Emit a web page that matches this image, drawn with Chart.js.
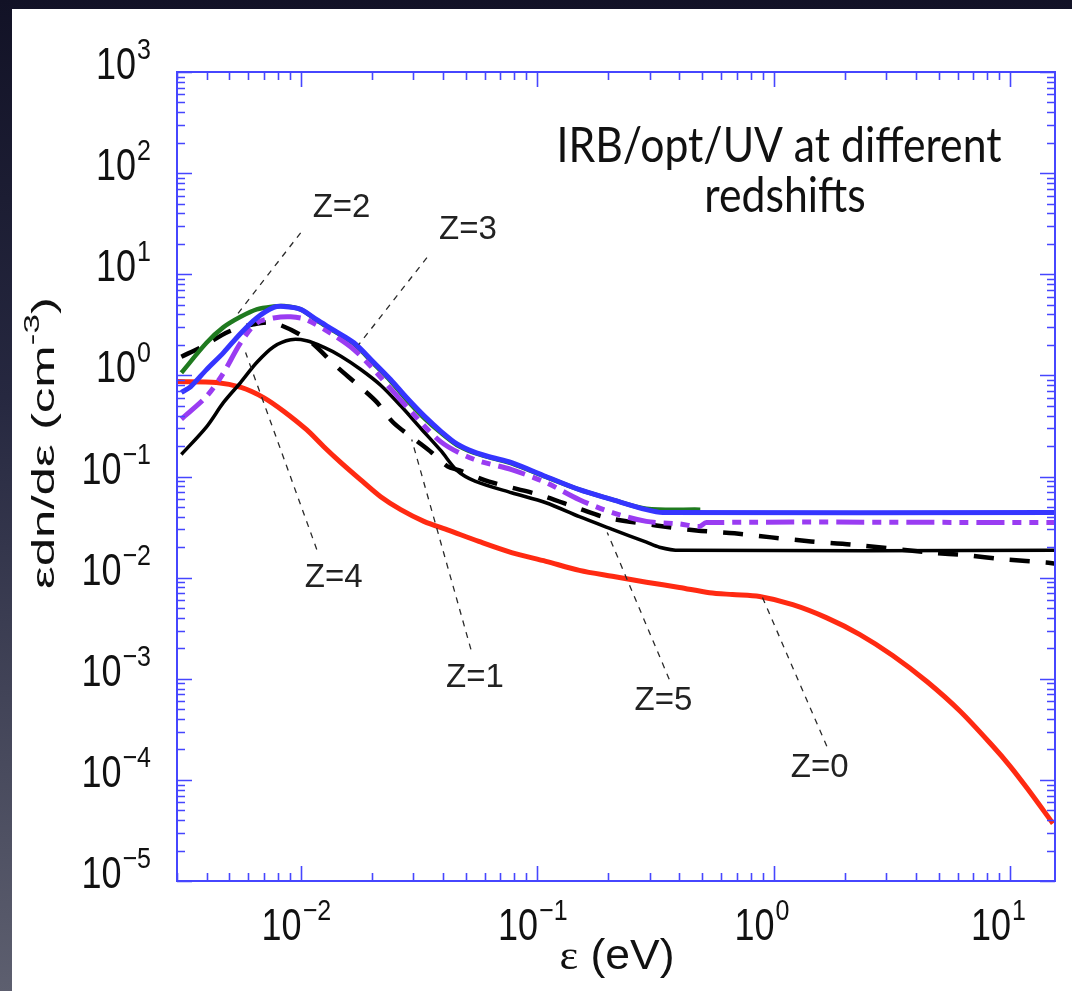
<!DOCTYPE html>
<html>
<head>
<meta charset="utf-8">
<script src="https://cdn.jsdelivr.net/npm/chart.js@4.4.1/dist/chart.umd.min.js"></script>
<style>
  html, body { margin: 0; padding: 0; width: 1072px; height: 991px; overflow: hidden;
    background: linear-gradient(180deg, #121226 0%, #262840 40%, #5d5f6f 100%); }
  #panel { position: absolute; left: 12px; top: 9px; width: 1060px; height: 982px; background: #ffffff; }
  #wrap { position: absolute; left: 0; top: 0; width: 1072px; height: 991px; }
</style>
</head>
<body>
<div id="panel"></div>
<div id="wrap"><canvas id="c" width="1072" height="991"></canvas></div>
<script>
// Photon number density of the infrared / optical / UV background, eps*dn/deps (cm^-3),
// versus photon energy eps (eV), at redshifts Z = 0 ... 5.
const z0Energy  = [0.003, 0.0044, 0.0056, 0.0070, 0.0085, 0.0106, 0.0125, 0.0148, 0.0179, 0.0218, 0.0265, 0.0332, 0.0424, 0.0567, 0.078, 0.109, 0.151, 0.208, 0.290, 0.40, 0.536, 0.67, 0.873, 1.205, 1.68, 2.31, 3.19, 4.45, 6.14, 8.47, 10.0, 11.8, 15.2];
const z0Density = [0.87, 0.85, 0.76, 0.60, 0.44, 0.29, 0.198, 0.137, 0.093, 0.063, 0.047, 0.036, 0.0293, 0.0228, 0.0177, 0.0145, 0.0118, 0.0103, 0.0090, 0.0080, 0.0071, 0.0068, 0.0065, 0.0054, 0.0040, 0.00275, 0.0017, 0.00094, 0.00048, 0.000215, 0.000137, 0.000083, 0.000037];

const z1Energy  = [0.00313, 0.00388, 0.00495, 0.00632, 0.00769, 0.0106, 0.0142, 0.0174, 0.0209, 0.0247, 0.0306, 0.0359, 0.0418, 0.047, 0.0627, 0.102, 0.151, 0.198, 0.319, 0.472, 0.684, 0.98, 1.44, 2.12, 4.58, 6.64, 9.6, 14.2, 15.5];
const z1Density = [1.53, 1.95, 2.7, 3.2, 3.3, 2.3, 1.22, 0.81, 0.55, 0.34, 0.23, 0.172, 0.126, 0.115, 0.089, 0.066, 0.048, 0.039, 0.0328, 0.0293, 0.0274, 0.025, 0.0228, 0.0213, 0.0177, 0.0166, 0.0151, 0.0141, 0.0138];

const z2Energy  = [0.00313, 0.0040, 0.00472, 0.00557, 0.00652, 0.00769, 0.0085, 0.01, 0.0117, 0.0138, 0.0168, 0.0204, 0.024, 0.0281, 0.0332, 0.0392, 0.0458, 0.054, 0.0638, 0.078, 0.109, 0.151, 0.208, 0.29, 0.49];
const z2Density = [1.06, 2.1, 3.0, 3.8, 4.5, 4.8, 4.85, 4.5, 3.5, 2.75, 2.05, 1.3, 0.88, 0.57, 0.38, 0.27, 0.205, 0.172, 0.153, 0.135, 0.099, 0.074, 0.059, 0.048, 0.047];

const z3Energy  = [0.00313, 0.00342, 0.0040, 0.00472, 0.00557, 0.00652, 0.00769, 0.00847, 0.01, 0.0117, 0.0138, 0.0168, 0.0204, 0.024, 0.0281, 0.0332, 0.0392, 0.0458, 0.054, 0.0638, 0.078, 0.109, 0.151, 0.208, 0.29, 0.34, 15.5];
const z3Density = [0.68, 0.77, 1.14, 1.68, 2.6, 3.7, 4.7, 4.8, 4.5, 3.55, 2.8, 2.1, 1.34, 0.91, 0.6, 0.4, 0.28, 0.21, 0.175, 0.155, 0.137, 0.1, 0.074, 0.059, 0.047, 0.044, 0.044];

const z4Energy  = [0.00313, 0.0040, 0.00472, 0.00557, 0.00652, 0.00769, 0.00907, 0.0106, 0.0138, 0.0168, 0.0204, 0.0281, 0.0392, 0.054, 0.078, 0.109, 0.151, 0.208, 0.29, 0.40, 0.485, 0.52, 15.5];
const z4Density = [0.37, 0.62, 1.06, 2.1, 3.3, 3.7, 3.8, 3.55, 2.5, 1.8, 1.14, 0.49, 0.22, 0.148, 0.117, 0.087, 0.059, 0.044, 0.036, 0.034, 0.032, 0.035, 0.035];

const z5Energy  = [0.00313, 0.0040, 0.00472, 0.00557, 0.00652, 0.00769, 0.00907, 0.0106, 0.0125, 0.0148, 0.0179, 0.0218, 0.0265, 0.0322, 0.0392, 0.0458, 0.0546, 0.078, 0.109, 0.151, 0.208, 0.29, 0.329, 0.40, 15.5];
const z5Density = [0.165, 0.31, 0.54, 0.85, 1.34, 1.92, 2.25, 2.2, 1.9, 1.55, 1.15, 0.8, 0.5, 0.3, 0.18, 0.115, 0.09, 0.069, 0.055, 0.040, 0.030, 0.0224, 0.020, 0.0186, 0.0186];

// Axis ranges and decade labels
const energyRange  = [0.003, 15.5];
const densityRange = [1e-5, 1e3];
const energyDecades  = [-2, -1, 0, 1];
const densityDecades = [3, 2, 1, 0, -1, -2, -3, -4, -5];

// Redshift tags: label, label position, and the two ends of its leader (energy, density)
const zTags = [
  { text: 'Z=2', at: [0.0149, 45.0],    from: [0.0100, 25.7],   to: [0.0053, 3.8] },
  { text: 'Z=3', at: [0.051, 27.5],     from: [0.0342, 14.6],   to: [0.0176, 2.01] },
  { text: 'Z=4', at: [0.0138, 0.0100],  from: [0.0117, 0.019],  to: [0.00585, 1.68] },
  { text: 'Z=1', at: [0.0546, 0.00103], from: [0.0525, 0.00195], to: [0.0295, 0.232] },
  { text: 'Z=5', at: [0.342, 0.0006],   from: [0.362, 0.00099], to: [0.198, 0.028] },
  { text: 'Z=0', at: [1.567, 0.00013],  from: [1.68, 0.000215], to: [0.897, 0.00638] }
];
const noteLines = ['IRB/opt/UV at different', 'redshifts'];

const pts = (xs, ys) => xs.map((x, i) => ({ x: x, y: ys[i] }));
const expText = e => String(e).replace('-', '\u2212');

const AXIS_BLUE = '#4646ff';
const SANS = '"Liberation Sans", Arial, sans-serif';

function scaledText(ctx, txt, x, y, font, align, sx, sy) {
  ctx.save();
  ctx.translate(x, y);
  ctx.scale(sx, sy);
  ctx.font = font;
  ctx.textAlign = align;
  ctx.textBaseline = 'alphabetic';
  ctx.fillText(txt, 0, 0);
  ctx.restore();
}

const framePlugin = {
  id: 'frame',
  afterDraw(chart) {
    const ctx = chart.ctx;
    const a = chart.chartArea;
    const xs = chart.scales.x, ys = chart.scales.y;

    // ---- frame with inward ticks on all four sides ----
    ctx.save();
    ctx.strokeStyle = AXIS_BLUE;
    ctx.lineWidth = 2;
    ctx.strokeRect(a.left, a.top, a.right - a.left, a.bottom - a.top);
    ctx.lineWidth = 1.6;
    ctx.beginPath();
    for (let d = -3; d <= 1; d++) {
      for (let m = 1; m <= 9; m++) {
        const v = m * Math.pow(10, d);
        if (v < energyRange[0] || v > energyRange[1]) continue;
        const px = Math.round(xs.getPixelForValue(v)) + 0.5;
        const len = m === 1 ? 15 : 8;
        ctx.moveTo(px, a.bottom); ctx.lineTo(px, a.bottom - len);
        ctx.moveTo(px, a.top); ctx.lineTo(px, a.top + len);
      }
    }
    for (let d = -5; d <= 3; d++) {
      for (let m = 1; m <= 9; m++) {
        const v = m * Math.pow(10, d);
        if (v < densityRange[0] || v > densityRange[1]) continue;
        const py = Math.round(ys.getPixelForValue(v)) + 0.5;
        const len = m === 1 ? 15 : 8;
        ctx.moveTo(a.left, py); ctx.lineTo(a.left + len, py);
        ctx.moveTo(a.right, py); ctx.lineTo(a.right - len, py);
      }
    }
    ctx.stroke();
    ctx.restore();

    // ---- decade labels 10^n ----
    ctx.save();
    ctx.fillStyle = '#111111';
    const baseFont = '36px ' + SANS, expFont = '25px ' + SANS;
    const SY = 1.24, SYE = 1.18;
    densityDecades.forEach(e => {
      const py = ys.getPixelForValue(Math.pow(10, e));
      const right = 151;
      const es = expText(e);
      ctx.font = expFont;
      const ew = ctx.measureText(es).width;
      scaledText(ctx, es, right, py - 13, expFont, 'right', 1, SYE);
      scaledText(ctx, '10', right - ew - 1, py + 7, baseFont, 'right', 1, SY);
    });
    energyDecades.forEach(e => {
      const px = xs.getPixelForValue(Math.pow(10, e));
      const es = expText(e);
      scaledText(ctx, '10', px + 1, 940, baseFont, 'right', 1, SY);
      scaledText(ctx, es, px + 2, 920, expFont, 'left', 1, SYE);
    });

    // ---- x axis title: eps (eV) ----
    {
      const serif = '34px "Liberation Serif", "Times New Roman", serif';
      const sansT = '34px ' + SANS;
      ctx.font = serif; const w1 = ctx.measureText('\u03b5').width;
      ctx.font = sansT; const w2 = ctx.measureText(' (eV)').width;
      const sx = 115 / (w1 + w2);
      const left = 617 - 115 / 2;
      scaledText(ctx, '\u03b5', left, 969, serif, 'left', sx, SY);
      scaledText(ctx, ' (eV)', left + w1 * sx, 969, sansT, 'left', sx, SY);
    }

    // ---- y axis title: eps dn/deps (cm^-3), reading upward ----
    {
      const font = '32px ' + SANS, sup = '22px ' + SANS;
      ctx.font = font;
      const wA = ctx.measureText('\u03b5dn/d\u03b5 (cm').width;
      const wC = ctx.measureText(')').width;
      ctx.font = sup;
      const wB = ctx.measureText('-3').width;
      const total = wA + wB + wC;
      const along = 292 / total;
      ctx.save();
      ctx.translate(44, 443);
      ctx.rotate(-Math.PI / 2);
      ctx.scale(along, 1);
      ctx.textBaseline = 'alphabetic';
      ctx.textAlign = 'left';
      const x0 = -total / 2;
      ctx.font = font; ctx.fillText('\u03b5dn/d\u03b5 (cm', x0, 10);
      ctx.font = sup;  ctx.fillText('-3', x0 + wA, -5);
      ctx.font = font; ctx.fillText(')', x0 + wA + wB, 10);
      ctx.restore();
    }

    // ---- redshift tags with dashed leaders ----
    ctx.strokeStyle = '#2a2a2a';
    ctx.lineWidth = 1.3;
    ctx.setLineDash([6, 6]);
    zTags.forEach(t => {
      ctx.beginPath();
      ctx.moveTo(xs.getPixelForValue(t.from[0]), ys.getPixelForValue(t.from[1]));
      ctx.lineTo(xs.getPixelForValue(t.to[0]), ys.getPixelForValue(t.to[1]));
      ctx.stroke();
    });
    ctx.setLineDash([]);
    ctx.fillStyle = '#222222';
    ctx.font = '33px ' + SANS;
    ctx.textAlign = 'center';
    ctx.textBaseline = 'middle';
    zTags.forEach(t => {
      ctx.fillText(t.text, xs.getPixelForValue(t.at[0]), ys.getPixelForValue(t.at[1]));
    });

    // ---- note ----
    {
      const face = 'Lato, "Open Sans", sans-serif';
      ctx.font = '40px ' + face;
      const w = ctx.measureText(noteLines[0]).width;
      const size = 40 * 445 / w;
      const f = size.toFixed(1) + 'px ' + face;
      ctx.fillStyle = '#111111';
      scaledText(ctx, noteLines[0], 779, 162, f, 'center', 1, 1.12);
      scaledText(ctx, noteLines[1], 785, 212, f, 'center', 1, 1.12);
    }
    ctx.restore();
  }
};

new Chart(document.getElementById('c'), {
  type: 'line',
  data: {
    datasets: [
      { label: 'Z=3', data: pts(z3Energy, z3Density), borderColor: '#3535ff', borderWidth: 5 },
      { label: 'Z=4', data: pts(z4Energy, z4Density), borderColor: '#9a3cf2', borderWidth: 5, borderDash: [28, 8, 9, 8, 9, 8] },
      { label: 'Z=2', data: pts(z2Energy, z2Density), borderColor: '#1f7a1f', borderWidth: 4.5 },
      { label: 'Z=1', data: pts(z1Energy, z1Density), borderColor: '#000000', borderWidth: 4.5, borderDash: [20, 16] },
      { label: 'Z=5', data: pts(z5Energy, z5Density), borderColor: '#000000', borderWidth: 3.5 },
      { label: 'Z=0', data: pts(z0Energy, z0Density), borderColor: '#ff2a12', borderWidth: 5 }
    ]
  },
  options: {
    responsive: false,
    animation: false,
    devicePixelRatio: 1,
    layout: { padding: { left: 0, right: 17, top: 72, bottom: 0 } },
    plugins: { legend: { display: false }, tooltip: { enabled: false } },
    elements: {
      point: { radius: 0 },
      line: { tension: 0.3, fill: false, borderCapStyle: 'butt', borderJoinStyle: 'round' }
    },
    scales: {
      x: {
        type: 'logarithmic', min: energyRange[0], max: energyRange[1],
        grid: { display: false }, border: { display: false }, ticks: { display: false },
        afterFit(s) { s.height = 110; }
      },
      y: {
        type: 'logarithmic', min: densityRange[0], max: densityRange[1],
        grid: { display: false }, border: { display: false }, ticks: { display: false },
        afterFit(s) { s.width = 177; }
      }
    }
  },
  plugins: [framePlugin]
});
</script>
</body>
</html>
